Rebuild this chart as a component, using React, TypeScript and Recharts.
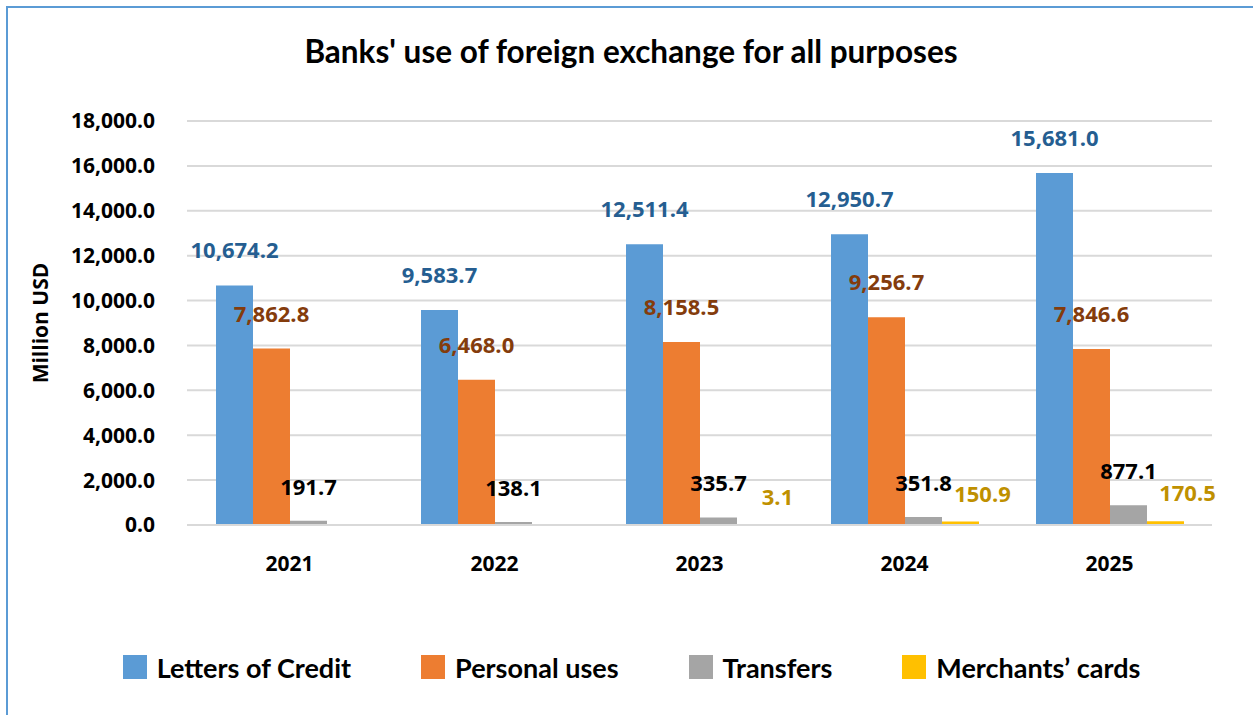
import { Bar, BarChart, CartesianGrid, LabelList, Legend, XAxis, YAxis } from 'recharts'

const YEARS = ['2021', '2022', '2023', '2024', '2025']
const LETTERS_OF_CREDIT = [10674.2, 9583.7, 12511.4, 12950.7, 15681.0]
const PERSONAL_USES = [7862.8, 6468.0, 8158.5, 9256.7, 7846.6]
const TRANSFERS = [191.7, 138.1, 335.7, 351.8, 877.1]
const MERCHANTS_CARDS: (number | null)[] = [null, null, 3.1, 150.9, 170.5]
const Y_TICKS = [0, 2000, 4000, 6000, 8000, 10000, 12000, 14000, 16000, 18000]

const SERIES = [
  { key: 'lc', name: 'Letters of Credit', color: '#5B9BD5', labelColor: '#255E91', dx: 0, dy: 27 },
  { key: 'personal', name: 'Personal uses', color: '#ED7D31', labelColor: '#843C0C', dx: 0, dy: 27 },
  { key: 'transfers', name: 'Transfers', color: '#A5A5A5', labelColor: '#000000', dx: 0, dy: 26 },
  { key: 'merchants', name: 'Merchants’ cards', color: '#FFC000', labelColor: '#BF9000', dx: 22, dy: 20 },
]

const data = YEARS.map((year, i) => ({
  year,
  lc: LETTERS_OF_CREDIT[i],
  personal: PERSONAL_USES[i],
  transfers: TRANSFERS[i],
  merchants: MERCHANTS_CARDS[i],
}))

const NUM_FONT = '"Open Sans", "Noto Sans", sans-serif'
const TEXT_FONT = 'Lato, "Noto Sans", sans-serif'

const fmt = (v: number) =>
  v.toLocaleString('en-US', { minimumFractionDigits: 1, maximumFractionDigits: 1 })

function makeLabel(color: string, dx: number, dy: number) {
  return (props: any) => {
    const { x, y, width, value } = props
    if (value == null) return null
    return (
      <text
        x={Number(x) + Number(width) / 2 + dx}
        y={Number(y) - dy}
        textAnchor="middle"
        fill={color}
        fontSize={22}
        fontWeight={700}
        fontFamily={NUM_FONT}
      >
        {fmt(Number(value))}
      </text>
    )
  }
}

function LegendContent() {
  return (
    <div
      style={{
        display: 'flex',
        justifyContent: 'center',
        alignItems: 'center',
        height: 60,
        gap: 70,
        paddingLeft: 10,
        fontFamily: TEXT_FONT,
        fontWeight: 700,
        fontSize: 27,
        color: '#000',
      }}
    >
      {SERIES.map((s) => (
        <div key={s.key} style={{ display: 'flex', alignItems: 'center', gap: 10 }}>
          <span style={{ width: 24, height: 24, background: s.color, display: 'inline-block' }} />
          <span>{s.name}</span>
        </div>
      ))}
    </div>
  )
}

export default function App() {
  return (
    <div
      style={{
        position: 'absolute',
        left: 0,
        top: 0,
        width: 1253,
        height: 715,
        overflow: 'hidden',
        background: '#fff',
      }}
    >
      <div
        style={{
          position: 'absolute',
          left: 6,
          top: 6,
          width: 1270,
          height: 730,
          border: '2px solid #5B9BD5',
        }}
      />
      <div
        style={{
          position: 'absolute',
          left: 0,
          top: 32,
          width: 1262,
          textAlign: 'center',
          fontFamily: TEXT_FONT,
          fontWeight: 700,
          fontSize: 31.5,
          color: '#000',
        }}
      >
        Banks' use of foreign exchange for all purposes
      </div>
      <div style={{ position: 'absolute', left: 0, top: 0 }}>
        <BarChart
          width={1253}
          height={715}
          data={data}
          margin={{ top: 121, right: 41, bottom: 18, left: 0 }}
          barGap={0}
        >
          <CartesianGrid vertical={false} stroke="#D9D9D9" strokeWidth={2} />
          <XAxis
            dataKey="year"
            height={112}
            axisLine={{ stroke: '#D9D9D9', strokeWidth: 2 }}
            tickLine={false}
            tickMargin={25}
            tick={{ fill: '#000', fontSize: 21, fontWeight: 700, fontFamily: NUM_FONT }}
          />
          <YAxis
            width={187}
            domain={[0, 18000]}
            ticks={Y_TICKS}
            axisLine={false}
            tickLine={false}
            tickMargin={26}
            tickFormatter={fmt}
            tick={{ fill: '#000', fontSize: 21, fontWeight: 700, fontFamily: NUM_FONT }}
            label={{
              position: 'insideLeft',
              content: (props: any) => {
                const vb = props.viewBox || {}
                const cx = 40
                const cy = (vb.y ?? 121) + (vb.height ?? 404) / 2
                return (
                  <text
                    x={cx}
                    y={cy}
                    transform={`rotate(-90, ${cx}, ${cy})`}
                    textAnchor="middle"
                    dominantBaseline="central"
                    fill="#000"
                    fontSize={21}
                    fontWeight={700}
                    fontFamily={NUM_FONT}
                  >
                    Million USD
                  </text>
                )
              },
            }}
          />
          <Legend
            verticalAlign="bottom"
            height={60}
            wrapperStyle={{ left: 0, width: 1253 }}
            content={() => <LegendContent />}
          />
          {SERIES.map((s) => (
            <Bar
              key={s.key}
              dataKey={s.key}
              name={s.name}
              fill={s.color}
              barSize={37}
              isAnimationActive={false}
            >
              <LabelList dataKey={s.key} content={makeLabel(s.labelColor, s.dx, s.dy)} />
            </Bar>
          ))}
        </BarChart>
      </div>
    </div>
  )
}
